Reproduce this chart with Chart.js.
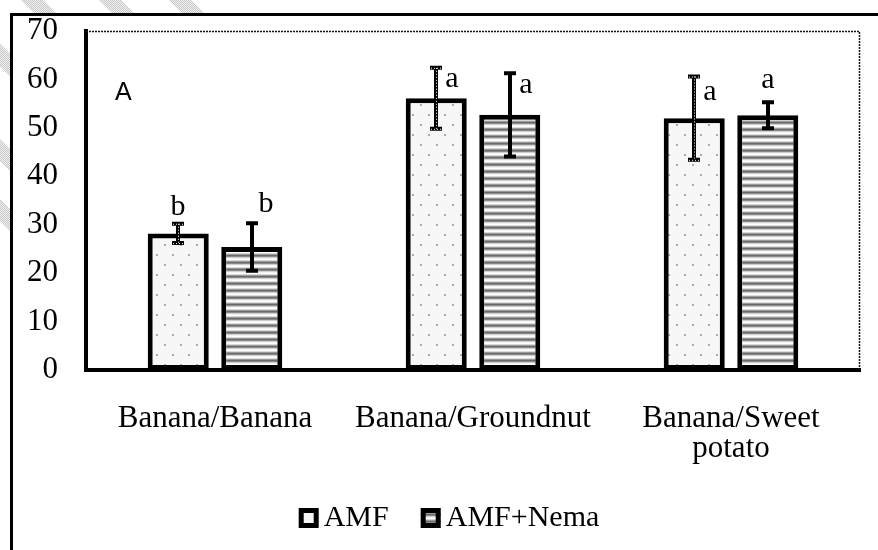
<!DOCTYPE html>
<html><head><meta charset="utf-8">
<script src="https://cdn.jsdelivr.net/npm/chart.js@4"></script>
<style>html,body{margin:0;padding:0;background:#fff;overflow:hidden}</style>
</head><body>
<canvas id="c" width="878" height="550"></canvas>
<script>
// ---- data ----
const categories = ["Banana/Banana", "Banana/Groundnut", ["Banana/Sweet", "potato"]];
const seriesNames = ["AMF", "AMF+Nema"];
const amfValues = [28.2, 56.1, 52.0];
const amfErrors = [2.0, 6.3, 8.6];
const nemaValues = [25.4, 52.7, 52.6];
const nemaErrors = [4.9, 8.6, 2.7];
const amfLetters = ["b", "a", "a"];
const nemaLetters = ["b", "a", "a"];
const yTicks = [0, 10, 20, 30, 40, 50, 60, 70];
const panelLabel = "A";

const SERIF = "'Liberation Serif', 'Times New Roman', serif";

function dotPattern() {
  const c = document.createElement('canvas'); c.width = 16; c.height = 20;
  const x = c.getContext('2d');
  x.fillStyle = '#f7f7f7'; x.fillRect(0, 0, 16, 20);
  x.fillStyle = '#aaaaaa';
  x.fillRect(4, 4, 2, 2); x.fillRect(12, 14, 2, 2);
  return x.createPattern(c, 'repeat');
}
function stripePattern() {
  const c = document.createElement('canvas'); c.width = 4; c.height = 7;
  const x = c.getContext('2d');
  const shades = ['#ffffff', '#d8d8d8', '#9a9a9a', '#6a6a6a', '#8a8a8a', '#cfcfcf', '#f4f4f4'];
  shades.forEach((s, i) => { x.fillStyle = s; x.fillRect(0, i, 4, 1); });
  return x.createPattern(c, 'repeat');
}
function checkerPattern() {
  const c = document.createElement('canvas'); c.width = 2; c.height = 2;
  const x = c.getContext('2d');
  x.fillStyle = '#f2f2f2'; x.fillRect(0, 0, 2, 2);
  x.fillStyle = '#c6c6c6'; x.fillRect(0, 0, 1, 1); x.fillRect(1, 1, 1, 1);
  return x.createPattern(c, 'repeat');
}
const dotPat = dotPattern();
const stripePat = stripePattern();
const checkPat = checkerPattern();

// label offsets (pixels) relative to the error-bar top
const letterOffsets = [
  [[0, -9], [16, 19], [16, 23]],
  [[14, -11], [16, 20], [0, -14]]
];

const framePlugin = {
  id: 'frame',
  beforeDraw(chart) {
    const ctx = chart.ctx;
    ctx.save();
    ctx.fillStyle = '#fff';
    ctx.fillRect(0, 0, chart.width, chart.height);
    // faint watermark bands in the margin
    ctx.strokeStyle = checkPat;
    ctx.lineWidth = 16;
    const starts = [[32, 0], [110, 0], [180, 0], [0, 55], [0, 150], [0, 210]];
    starts.forEach(([sx, sy]) => {
      ctx.beginPath(); ctx.moveTo(sx - 12, sy - 12); ctx.lineTo(sx + 30, sy + 30); ctx.stroke();
    });
    ctx.fillStyle = '#fff';
    ctx.fillRect(10, 13, chart.width, chart.height);
    ctx.strokeStyle = '#000';
    ctx.lineWidth = 3;
    ctx.strokeRect(11.5, 14.5, chart.width + 20, chart.height + 20);
    ctx.restore();
  },
  beforeDatasetsDraw(chart) {
    const ctx = chart.ctx, a = chart.chartArea;
    ctx.save();
    ctx.strokeStyle = '#111';
    ctx.lineWidth = 1.5;
    ctx.setLineDash([2, 1]);
    ctx.beginPath();
    ctx.moveTo(a.left, a.top + 0.5);
    ctx.lineTo(a.right - 0.5, a.top + 0.5);
    ctx.lineTo(a.right - 0.5, a.bottom);
    ctx.stroke();
    ctx.restore();
    // panel letter
    ctx.save();
    ctx.fillStyle = '#000';
    ctx.font = "25px 'Liberation Sans', Arial, sans-serif";
    ctx.textBaseline = 'alphabetic';
    ctx.fillText(panelLabel, a.left + 29, a.top + 69);
    ctx.restore();
  },
  afterDatasetsDraw(chart) {
    const ctx = chart.ctx, ys = chart.scales.y;
    chart.data.datasets.forEach((ds, di) => {
      const meta = chart.getDatasetMeta(di);
      meta.data.forEach((bar, i) => {
        const v = ds.data[i], e = ds.errors[i];
        const x = Math.round(bar.x);
        const yt = ys.getPixelForValue(v + e), yb = ys.getPixelForValue(v - e);
        ctx.save();
        ctx.strokeStyle = '#000';
        ctx.lineWidth = 4;
        ctx.beginPath();
        ctx.moveTo(x, yt); ctx.lineTo(x, yb);
        ctx.moveTo(x - 6, yt); ctx.lineTo(x + 6, yt);
        ctx.moveTo(x - 6, yb); ctx.lineTo(x + 6, yb);
        ctx.stroke();
        if (ds.dottedError) {
          ctx.strokeStyle = '#fff';
          ctx.lineWidth = 1;
          ctx.setLineDash([1, 2]);
          ctx.beginPath();
          ctx.moveTo(x + 0.5, yt); ctx.lineTo(x + 0.5, yb);
          ctx.moveTo(x - 5, yt + 0.5); ctx.lineTo(x + 5, yt + 0.5);
          ctx.moveTo(x - 5, yb + 0.5); ctx.lineTo(x + 5, yb + 0.5);
          ctx.stroke();
        }
        ctx.restore();
        const off = letterOffsets[di][i];
        ctx.save();
        ctx.fillStyle = '#000';
        ctx.font = '30px ' + SERIF;
        ctx.textAlign = 'center';
        ctx.textBaseline = 'alphabetic';
        ctx.fillText(ds.letters[i], x + off[0], yt + off[1]);
        ctx.restore();
      });
    });
  },
  afterDraw(chart) {
    // legend
    const ctx = chart.ctx;
    ctx.save();
    ctx.font = '30px ' + SERIF;
    const box = 20, gap = 5, itemGap = 32;
    const items = chart.data.datasets.map(ds => ({ ds, w: ctx.measureText(ds.label).width }));
    let total = 0;
    items.forEach((it, k) => { total += box + gap + it.w + (k ? itemGap : 0); });
    let x = chart.width / 2 + 10 - total / 2;
    const cy = 518;
    items.forEach((it, k) => {
      if (k) x += itemGap;
      ctx.fillStyle = it.ds.backgroundColor;
      ctx.fillRect(x, cy - box / 2, box, box);
      ctx.strokeStyle = '#000';
      ctx.lineWidth = 5;
      ctx.strokeRect(x + 2.5, cy - box / 2 + 2.5, box - 5, box - 5);
      x += box + gap;
      ctx.fillStyle = '#000';
      ctx.textBaseline = 'middle';
      ctx.fillText(it.ds.label, x, cy);
      x += it.w;
    });
    ctx.restore();
  }
};

new Chart(document.getElementById('c'), {
  type: 'bar',
  data: {
    labels: categories,
    datasets: [
      { label: seriesNames[0], data: amfValues, errors: amfErrors, letters: amfLetters, dottedError: true,
        backgroundColor: dotPat, borderColor: '#000', borderWidth: 5, borderSkipped: false },
      { label: seriesNames[1], data: nemaValues, errors: nemaErrors, letters: nemaLetters, dottedError: false,
        backgroundColor: stripePat, borderColor: '#000', borderWidth: 5, borderSkipped: false }
    ]
  },
  options: {
    responsive: false,
    animation: false,
    devicePixelRatio: 1,
    categoryPercentage: 0.57,
    barPercentage: 0.83,
    layout: { padding: { left: 10, right: 18, top: 31, bottom: 0 } },
    scales: {
      x: {
        grid: { display: false, drawTicks: false },
        border: { display: true, color: '#000', width: 4 },
        ticks: { color: '#000', font: { family: SERIF, size: 31, lineHeight: 0.97 }, padding: 34, maxRotation: 0, autoSkip: false },
        afterFit(s) { s.height = 180; s.paddingLeft = 0; s.paddingRight = 0; }
      },
      y: {
        min: 0, max: 70,
        afterBuildTicks(s) { s.ticks = yTicks.map(v => ({ value: v })); },
        grid: { display: false, drawTicks: false },
        border: { display: true, color: '#000', width: 4 },
        ticks: { color: '#000', font: { family: SERIF, size: 31 }, padding: 28 },
        afterFit(s) { s.width = 76; s.paddingTop = 0; s.paddingBottom = 0; }
      }
    },
    plugins: { legend: { display: false }, tooltip: { enabled: false } }
  },
  plugins: [framePlugin]
});
</script>
</body></html>
